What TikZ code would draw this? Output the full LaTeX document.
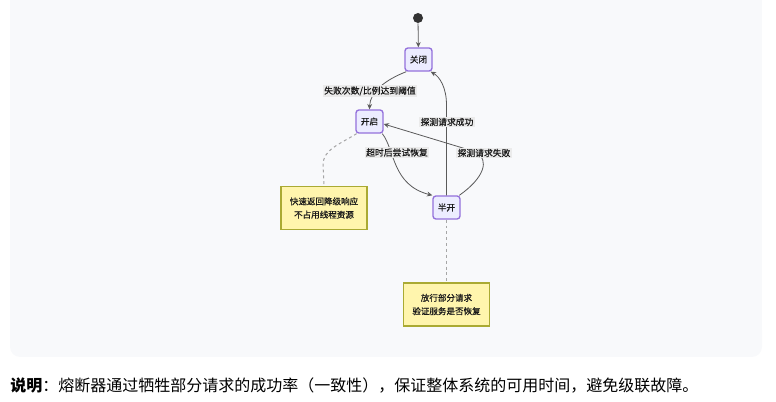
\documentclass[tikz,border=0pt]{standalone}
\usepackage{fontspec}
\setmainfont{Noto Sans CJK SC}
\newfontfamily\smallcjk{Noto Sans CJK SC}[FakeBold=0.5]
\usetikzlibrary{arrows.meta}
\definecolor{panelbg}{HTML}{F8F9FB}
\definecolor{statefill}{HTML}{ECECFF}
\definecolor{stateborder}{HTML}{9370DB}
\definecolor{notefill}{HTML}{FFF5AD}
\definecolor{noteborder}{HTML}{AAAA33}
\definecolor{edgecol}{HTML}{5A5A5A}
\definecolor{lblbg}{HTML}{EBEBEB}
\definecolor{textcol}{HTML}{1A1A1A}
\tikzset{
  statebox/.style={draw=stateborder, fill=statefill, line width=1pt, rounded corners=2.2pt,
    minimum width=20.25pt, minimum height=17.25pt, inner sep=0pt,
    font=\smallcjk\fontsize{6.5pt}{8pt}\selectfont, text=textcol},
  notebox/.style={draw=noteborder, fill=notefill, line width=0.8pt,
    minimum width=64.5pt, minimum height=32.25pt, inner sep=0pt, align=center,
    font=\smallcjk\fontsize{6.4pt}{10pt}\selectfont, text=textcol},
  edge/.style={draw=edgecol, line width=0.6pt, -{Stealth[length=4pt,width=3.6pt]}},
  notelink/.style={draw=gray!70, line width=0.75pt, dash pattern=on 2.2pt off 2.2pt},
  edgelabel/.style={fill=lblbg, inner xsep=1pt, inner ysep=1pt,
    font=\smallcjk\fontsize{6.6pt}{8pt}\selectfont, text=textcol},
}
\begin{document}
\begin{tikzpicture}[x=0.75pt,y=-0.75pt]
\useasboundingbox (0,0) rectangle (776,402);
% panel
\fill[panelbg] (10,0) rectangle (762,340);
\fill[panelbg, rounded corners=7.5pt] (10,320) rectangle (762,357);

% nodes
\node[circle, fill=black!80, inner sep=0pt, minimum size=7.5pt] (start) at (418,18) {};
\node[statebox] (closed) at (418.5,59.5) {关闭};
\node[statebox] (open) at (369.5,121.5) {开启};
\node[statebox] (half) at (446.5,207.5) {半开};
\node[notebox] (note1) at (324,208) {快速返回降级响应\\不占用线程资源};
\node[notebox] (note2) at (446.5,304.5) {放行部分请求\\验证服务是否恢复};

% note links
\draw[notelink] ([xshift=1pt]open.south west) .. controls (338,145) and (323,150) .. (323,165) -- (note1.north);
\draw[notelink] (half.south) -- (note2.north);

% edges
\draw[edge] (start) -- (closed);
\draw[edge] ([xshift=1.5pt]closed.south west) .. controls (385,80) and (370,92) .. (open.north);
\draw[edge] ([xshift=-1pt]open.south east) .. controls (395,150) and (392,185) .. (half.north west);
\draw[edge] ([xshift=-1pt]half.north east) .. controls (484,178) and (490,160) .. (476,152) -- (open.-10);
\draw[edge] (half.north) -- (446.5,105) .. controls (446.5,88) and (440,77) .. ([xshift=-1.5pt]closed.south east);

% edge labels
\node[edgelabel] (l1) at (370,91) {失败次数/比例达到阈值};
\node[edgelabel] (l2) at (447,122) {探测请求成功};
\node[edgelabel] (l3) at (397,152.5) {超时后尝试恢复};
\node[edgelabel] (l4) at (484,153) {探测请求失败};

% caption
\node[anchor=west, inner sep=0pt, font=\fontsize{12pt}{14pt}\selectfont, text=black] (cap) at (10,386)
  {\textbf{说明}：熔断器通过牺牲部分请求的成功率（一致性），保证整体系统的可用时间，避免级联故障。};
\end{tikzpicture}
\end{document}
